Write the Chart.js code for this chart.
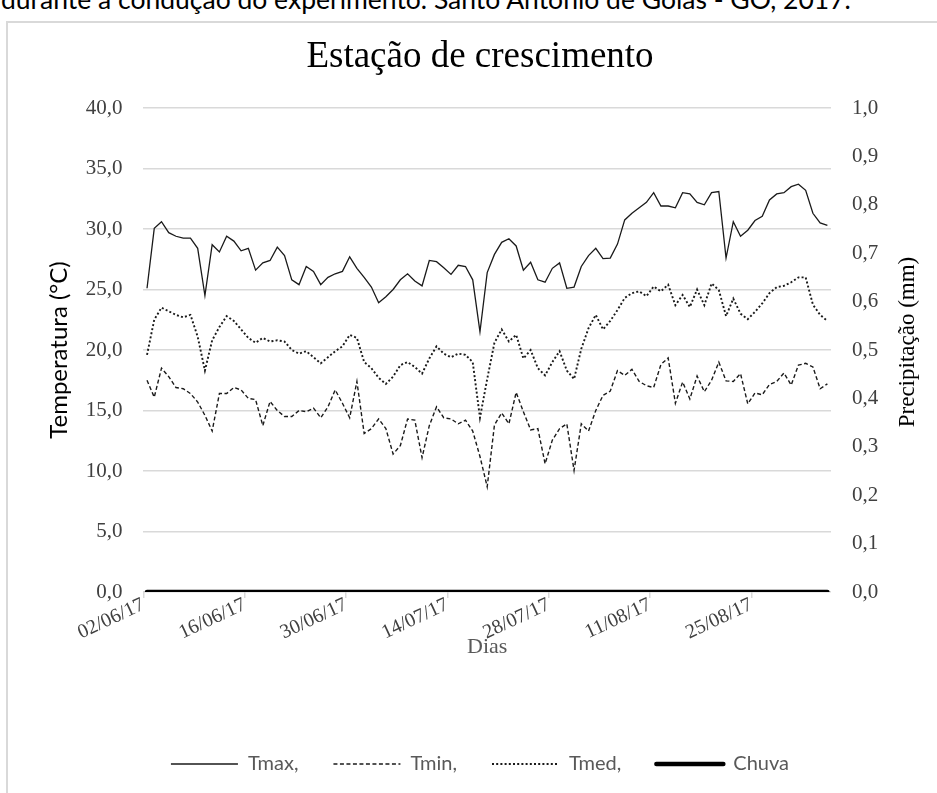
<!DOCTYPE html>
<html>
<head>
<meta charset="utf-8">
<script src="https://cdn.jsdelivr.net/npm/chart.js@4.4.1/dist/chart.umd.min.js"></script>
<style>
  html, body { margin: 0; padding: 0; width: 937px; height: 793px; overflow: hidden; background: #fff; }
  #caption { position: absolute; left: 1px; top: -14.5px; font: 26.5px Lato, sans-serif; line-height: 26.5px; color: #000; white-space: nowrap; }
  #frame { position: absolute; left: 6px; top: 21px; width: 980px; height: 820px; border: 2px solid #d9d9d9; }
  #wrap { position: absolute; left: 7px; top: 22px; width: 946px; height: 780px; }
</style>
</head>
<body>
<div id="caption">durante a condução do experimento. Santo Antônio de Goiás - GO, 2017.</div>
<div id="frame"></div>
<div id="wrap"><canvas id="climaChart"></canvas></div>
<script>
// daily values, 02/06/17 .. 04/09/17
const tmax = [
  25.1, 30.05, 30.6, 29.7, 29.4, 29.25, 29.25, 28.4, 24.5, 28.7,
  28.1, 29.4, 29.0, 28.2, 28.4, 26.6, 27.2, 27.4, 28.5, 27.8,
  25.8, 25.4, 26.9, 26.5, 25.4, 26.0, 26.3, 26.5, 27.7, 26.75,
  26.0, 25.2, 23.9, 24.4, 25.0, 25.8, 26.3, 25.7, 25.3, 27.4,
  27.3, 26.8, 26.25, 27.0, 26.9, 25.8, 21.5, 26.4, 27.9, 28.9,
  29.2, 28.6, 26.6, 27.25, 25.8, 25.6, 26.75, 27.2, 25.1, 25.2,
  26.9, 27.8, 28.4, 27.55, 27.6, 28.75, 30.75, 31.3, 31.75, 32.2,
  33.0, 31.9, 31.9, 31.75, 33.0, 32.9, 32.2, 32.0, 33.0, 33.1,
  27.6, 30.6, 29.4, 29.9, 30.7, 31.05, 32.4, 32.9, 33.0, 33.5,
  33.7, 33.2, 31.3, 30.5, 30.3
];
const tmin = [
  17.5, 16.1, 18.5, 17.8, 16.9, 16.8, 16.4, 15.7, 14.6, 13.3,
  16.4, 16.4, 16.9, 16.7, 16.0, 15.9, 13.75, 15.75, 15.0, 14.5,
  14.5, 15.0, 14.9, 15.2, 14.4, 15.3, 16.7, 15.6, 14.4, 17.4,
  13.1, 13.5, 14.3, 13.5, 11.4, 12.1, 14.3, 14.2, 11.1, 13.75,
  15.3, 14.4, 14.3, 13.9, 14.2, 13.3, 11.2, 8.7, 13.8, 14.8,
  13.9, 16.5, 14.9, 13.4, 13.5, 10.6, 12.55, 13.5, 13.9, 10.05,
  13.9, 13.3, 15.0, 16.25, 16.6, 18.3, 17.9, 18.4, 17.4, 17.05,
  16.9, 18.8, 19.35, 15.6, 17.35, 15.95, 17.85, 16.55, 17.5, 19.0,
  17.45, 17.4, 18.05, 15.55, 16.45, 16.3, 17.15, 17.4, 18.1, 17.1,
  18.75, 18.9, 18.6, 16.8, 17.2
];
const tmed = [
  19.6, 22.5, 23.5, 23.2, 22.9, 22.7, 22.9, 21.1, 18.3, 20.8,
  21.9, 22.8, 22.4, 21.7, 21.0, 20.6, 21.0, 20.7, 20.8, 20.7,
  20.0, 19.7, 19.9, 19.4, 18.9, 19.4, 19.9, 20.3, 21.25, 21.0,
  19.0, 18.5, 17.7, 17.2, 17.8, 18.75, 19.0, 18.6, 18.05, 19.3,
  20.3, 19.7, 19.4, 19.7, 19.6, 19.0, 14.4, 17.6, 20.6, 21.7,
  20.7, 21.25, 19.3, 20.0, 18.5, 17.9, 19.0, 19.9, 18.3, 17.6,
  20.1, 21.8, 22.9, 21.7, 22.4, 23.3, 24.3, 24.7, 24.85, 24.45,
  25.25, 24.85, 25.4, 23.7, 24.55, 23.55, 25.0, 23.7, 25.5, 24.95,
  22.8, 24.25, 23.0, 22.55, 23.15, 23.85, 24.7, 25.2, 25.3, 25.6,
  26.0, 26.0, 23.75, 22.9, 22.4
];
const chuva = [
  0, 0, 0, 0, 0, 0, 0, 0, 0, 0, 0, 0, 0, 0, 0, 0, 0, 0, 0, 0,
  0, 0, 0, 0, 0, 0, 0, 0, 0, 0, 0, 0, 0, 0, 0, 0, 0, 0, 0, 0,
  0, 0, 0, 0, 0, 0, 0, 0, 0, 0, 0, 0, 0, 0, 0, 0, 0, 0, 0, 0,
  0, 0, 0, 0, 0, 0, 0, 0, 0, 0, 0, 0, 0, 0, 0, 0, 0, 0, 0, 0,
  0, 0, 0, 0, 0, 0, 0, 0, 0, 0, 0, 0, 0, 0, 0
];

const tickDays = [0, 14, 28, 42, 56, 70, 84];
const tickLabels = ["02/06/17", "16/06/17", "30/06/17", "14/07/17", "28/07/17", "11/08/17", "25/08/17"];

const serif = "'Liberation Serif', 'Times New Roman', serif";
const sans = "Lato, 'Open Sans', sans-serif";

const toPoints = (values) => values.map((v, i) => ({ x: i, y: v }));
const comma = (v) => Number(v).toFixed(1).replace(".", ",");

// right axis title reads bottom-to-top, like Excel
const rightTitle = {
  id: "rightTitle",
  afterDraw(chart) {
    const { ctx, chartArea } = chart;
    ctx.save();
    ctx.translate(901, (chartArea.top + chartArea.bottom) / 2 - 8);
    ctx.rotate(-Math.PI / 2);
    ctx.font = "23px " + serif;
    ctx.fillStyle = "#000";
    ctx.textAlign = "center";
    ctx.textBaseline = "middle";
    ctx.fillText("Precipitação (mm)", 0, 0);
    ctx.restore();
  },
};

const ctx = document.getElementById("climaChart").getContext("2d");
const climaChart = new Chart(ctx, {
  type: "line",
  data: {
    datasets: [
      {
        label: "Tmax,",
        data: toPoints(tmax),
        borderColor: "#1a1a1a",
        borderWidth: 1.3,
        yAxisID: "y",
      },
      {
        label: "Tmin,",
        data: toPoints(tmin),
        borderColor: "#1a1a1a",
        borderWidth: 1.4,
        borderDash: [4, 2.5],
        yAxisID: "y",
      },
      {
        label: "Tmed,",
        data: toPoints(tmed),
        borderColor: "#1a1a1a",
        borderWidth: 1.9,
        borderDash: [2, 2.2],
        yAxisID: "y",
      },
      {
        label: "Chuva",
        data: toPoints(chuva),
        borderColor: "#000",
        borderWidth: 4.5,
        borderCapStyle: "round",
        yAxisID: "y1",
      },
    ],
  },
  options: {
    responsive: true,
    maintainAspectRatio: false,
    animation: false,
    elements: { point: { radius: 0 }, line: { tension: 0 } },
    layout: { padding: { left: 0, right: 0, top: 0, bottom: 18 } },
    plugins: {
      tooltip: { enabled: false },
      title: {
        display: true,
        text: "Estação de crescimento",
        color: "#000",
        font: { family: serif, size: 37, weight: "normal" },
        padding: { top: 12.8, bottom: 28.8 },
      },
      legend: {
        position: "bottom",
        labels: {
          color: "#595959",
          font: { family: sans, size: 20 },
          usePointStyle: true,
          pointStyle: "line",
          pointStyleWidth: 67,
          padding: 35,
          // point style legend loses the dash, so copy it from the dataset
          generateLabels: (chart) => {
            const items = Chart.defaults.plugins.legend.labels.generateLabels(chart);
            items.forEach((item) => {
              const ds = chart.data.datasets[item.datasetIndex];
              item.lineDash = ds.borderDash || [];
              item.lineWidth = ds.borderWidth;
              item.lineCap = ds.borderCapStyle || "butt";
            });
            return items;
          },
        },
      },
    },
    scales: {
      x: {
        type: "linear",
        min: -0.5,
        max: 94.5,
        afterBuildTicks: (scale) => {
          scale.ticks = tickDays.map((d) => ({ value: d - 0.5 }));
        },
        afterFit: (scale) => {
          scale.height = 127;
        },
        ticks: {
          autoSkip: false,
          minRotation: 25,
          maxRotation: 25,
          padding: -5,
          color: "#404040",
          font: { family: serif, size: 20 },
          callback: (value, index) => tickLabels[index],
        },
        grid: {
          drawOnChartArea: false,
          drawTicks: true,
          tickLength: 6,
          color: "#d9d9d9",
          lineWidth: 1.5,
        },
        border: { display: false },
        title: {
          display: true,
          text: "Dias",
          color: "#595959",
          font: { family: serif, size: 22 },
          padding: { top: 0, bottom: 59 },
        },
      },
      y: {
        position: "left",
        min: 0,
        max: 40,
        afterFit: (scale) => {
          scale.width = 136.4;
        },
        ticks: {
          stepSize: 5,
          padding: 21,
          color: "#404040",
          font: { family: serif, size: 21 },
          callback: (v) => comma(v),
        },
        grid: { color: "#d9d9d9", lineWidth: 1.5, drawTicks: false },
        border: { display: false },
        title: {
          display: true,
          text: "Temperatura (°C)",
          color: "#000",
          font: { family: sans, size: 24 },
          padding: { top: 37.6, bottom: 0 },
        },
      },
      y1: {
        position: "right",
        min: 0,
        max: 1,
        afterFit: (scale) => {
          scale.width = 122;
        },
        ticks: {
          stepSize: 0.1,
          padding: 21,
          color: "#404040",
          font: { family: serif, size: 21 },
          callback: (v) => comma(v),
        },
        grid: { display: false, drawTicks: false },
        border: { display: false },
      },
    },
  },
  plugins: [rightTitle],
});
</script>
</body>
</html>
